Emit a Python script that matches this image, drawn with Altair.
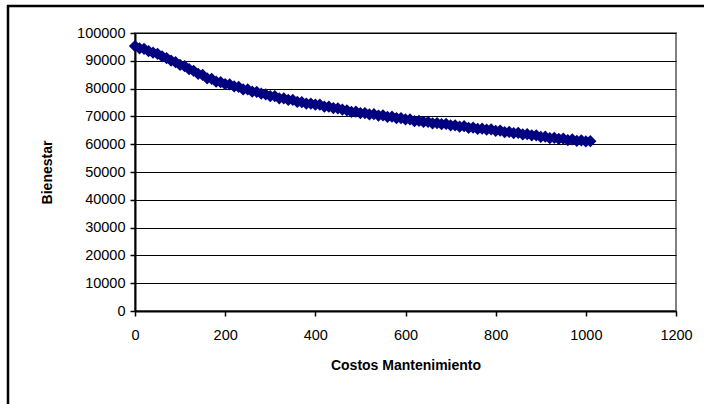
import altair as alt
import pandas as pd

# Maintenance cost (x) versus welfare (y)
costos = list(range(0, 1011, 10))
bienestar = [
    95300, 94500, 94300, 93500, 92900, 92500, 91600, 91000, 90100, 89500,
    88500, 88100, 87000, 86400, 85300, 84900, 83700, 83500, 82500, 82300,
    81600, 81500, 80800, 80600, 79700, 79700, 78900, 78800, 78200, 77900,
    77300, 77300, 76500, 76500, 75900, 75900, 75200, 75100, 74600, 74600,
    74200, 74200, 73500, 73500, 73000, 72900, 72400, 72200, 71600, 71700,
    71200, 71200, 70700, 70800, 70300, 70400, 69800, 69900, 69400, 69400,
    68900, 68900, 68300, 68400, 68000, 68000, 67500, 67600, 67200, 67300,
    66800, 66800, 66300, 66500, 65900, 66000, 65500, 65600, 65200, 65300,
    64800, 64900, 64300, 64400, 64000, 64100, 63500, 63600, 63200, 63200,
    62600, 62700, 62200, 62300, 61900, 62000, 61500, 61700, 61200, 61400,
    61000, 61100,
]
x_ticks = [0, 200, 400, 600, 800, 1000, 1200]
y_ticks = list(range(0, 100001, 10000))

df = pd.DataFrame({"costos": costos, "bienestar": bienestar})

NAVY = "#000080"
FONT = "Liberation Sans"

x_enc = alt.X(
    "costos:Q",
    scale=alt.Scale(domain=[0, 1200], nice=False),
    axis=alt.Axis(
        values=x_ticks, format="d", title="Costos Mantenimiento", grid=False,
        labelPadding=12, titlePadding=17,
    ),
)
y_enc = alt.Y(
    "bienestar:Q",
    scale=alt.Scale(domain=[0, 100000], nice=False),
    axis=alt.Axis(
        values=y_ticks, format="d", title="Bienestar", grid=True,
        labelPadding=5, titlePadding=22,
    ),
)

base = alt.Chart(df).encode(x=x_enc, y=y_enc)
line = base.mark_line(color=NAVY, strokeWidth=3)
points = base.mark_point(shape="diamond", filled=True, color=NAVY, opacity=1, size=150)

# Outer chart frame: top and left edges (the rest lies past the page edge)
one = pd.DataFrame({"k": [0]})
frame_top = alt.Chart(one).mark_rule(color="black", strokeWidth=2.5, clip=False).encode(
    x=alt.value(-128), x2=alt.value(569), y=alt.value(-27)
)
frame_left = alt.Chart(one).mark_rule(color="black", strokeWidth=2.5, clip=False).encode(
    x=alt.value(-127), y=alt.value(-28), y2=alt.value(371)
)

chart = (
    alt.layer(frame_top, frame_left, line, points)
    .properties(
        width=541, height=278,
        autosize=alt.AutoSizeParams(type="none"),
        padding={"left": 135, "top": 33, "right": 28, "bottom": 93},
        background="white",
    )
    .configure_view(stroke="#808080", strokeWidth=2)
    .configure_axis(
        labelFont=FONT, labelFontSize=14.5, labelColor="black",
        titleFont=FONT, titleFontSize=14, titleFontWeight="bold", titleColor="black",
        domainColor="black", domainWidth=2, tickColor="black", tickWidth=1.5, tickSize=5,
        gridColor="black", gridWidth=1, gridOpacity=1, labelFlush=False,
    )
)

chart.save("out.html", embed_options={"renderer": "svg", "actions": False})
